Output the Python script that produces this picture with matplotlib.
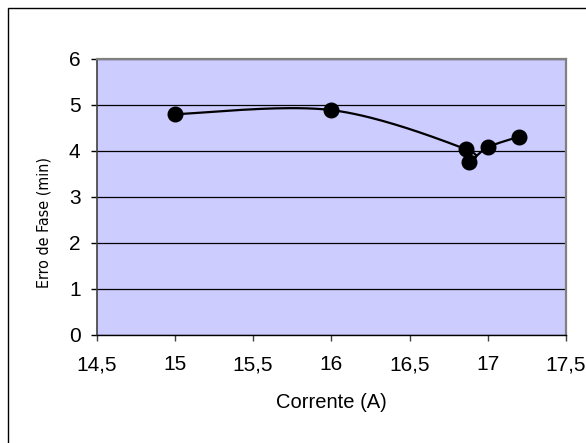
import matplotlib
matplotlib.use("Agg")
import matplotlib.pyplot as plt
from matplotlib.patches import Rectangle
from matplotlib import font_manager
import numpy as np

corrente = [15.0, 16.0, 16.86, 16.88, 17.0, 17.2]
erro_fase = [4.80, 4.89, 4.04, 3.77, 4.08, 4.31]
x_ticks = [14.5, 15.0, 15.5, 16.0, 16.5, 17.0, 17.5]
x_tick_labels = ["14,5", "15", "15,5", "16", "16,5", "17", "17,5"]
y_ticks = [0, 1, 2, 3, 4, 5, 6]

plt.rcParams["font.family"] = ["Liberation Sans", "DejaVu Sans"]

# pick a narrow face for the vertical axis title when one is available
narrow_family, narrow_stretch = "Liberation Sans", "normal"
for f in font_manager.fontManager.ttflist:
    if f.name == "Liberation Sans Narrow":
        narrow_family, narrow_stretch = f.name, "normal"
        break
else:
    for f in font_manager.fontManager.ttflist:
        if f.name == "DejaVu Sans" and str(f.stretch) in ("condensed", "semi-condensed"):
            narrow_family, narrow_stretch = "DejaVu Sans", "condensed"
            break


def smooth_curve(xs, ys, n=40):
    """Cubic Bezier smoothing through every point (tension 1/6)."""
    P = np.column_stack([xs, ys]).astype(float)
    ext = np.vstack([P[0], P, P[-1]])
    out = []
    t = np.linspace(0, 1, n)[:, None]
    for i in range(len(P) - 1):
        p0, p1 = ext[i + 1], ext[i + 2]
        c1 = p0 + (ext[i + 2] - ext[i]) / 6.0
        c2 = p1 - (ext[i + 3] - ext[i + 1]) / 6.0
        seg = ((1 - t) ** 3) * p0 + 3 * ((1 - t) ** 2) * t * c1 + 3 * (1 - t) * t ** 2 * c2 + t ** 3 * p1
        out.append(seg if i == 0 else seg[1:])
    curve = np.vstack(out)
    return curve[:, 0], curve[:, 1]


W, H = 586, 443
fig = plt.figure(figsize=(W / 100, H / 100), dpi=100)
fig.patch.set_facecolor("white")

# chart frame (open at right and bottom edges)
fig.patches.append(Rectangle((7.5 / W, -0.2), 1.0, (H - 7.5) / H + 0.2,
                             transform=fig.transFigure, fill=False,
                             edgecolor="black", linewidth=1.0))

left, right, top, bottom = 96.5, 566, 59, 335
ax = fig.add_axes([left / W, (H - bottom) / H, (right - left) / W, (bottom - top) / H])
ax.set_facecolor("#CCCCFF")

ax.set_xlim(14.5, 17.5)
ax.set_ylim(0, 6)
ax.set_xticks(x_ticks)
ax.set_xticklabels(x_tick_labels)
ax.set_yticks(y_ticks)

ax.yaxis.grid(True, color="black", linewidth=0.9)
ax.set_axisbelow(True)

for s in ["top", "right"]:
    ax.spines[s].set_color("#808080")
    ax.spines[s].set_linewidth(1.6)
ax.spines["left"].set_color("#404040")
ax.spines["left"].set_linewidth(1.2)
ax.spines["bottom"].set_color("black")
ax.spines["bottom"].set_linewidth(1.0)

ax.tick_params(axis="x", direction="out", length=4, width=1, color="#404040",
               labelsize=15, pad=10.5)
ax.tick_params(axis="y", direction="out", length=4.5, width=1, color="black",
               labelsize=15, pad=7)

sx, sy = smooth_curve(corrente, erro_fase)
ax.plot(sx, sy, color="black", linewidth=1.6, solid_capstyle="round", zorder=3)
ax.plot(corrente, erro_fase, linestyle="none", marker="o", markersize=10.5,
        color="black", zorder=4)

fig.text(331 / W, (H - 403) / H, "Corrente (A)", ha="center", va="center",
         fontsize=14.5)
ylab = fig.text(44 / W, (H - 222) / H, "Erro de Fase (min)", rotation=90,
                ha="center", va="center", fontsize=14,
                family=[narrow_family, "DejaVu Sans"], stretch=narrow_stretch)

# keep the vertical title to its compact length
fig.canvas.draw()
ext = ylab.get_window_extent(fig.canvas.get_renderer())
target = 132.0
if ext.height > target:
    ylab.set_fontsize(14 * target / ext.height)

fig.savefig("out.png", dpi=100)
